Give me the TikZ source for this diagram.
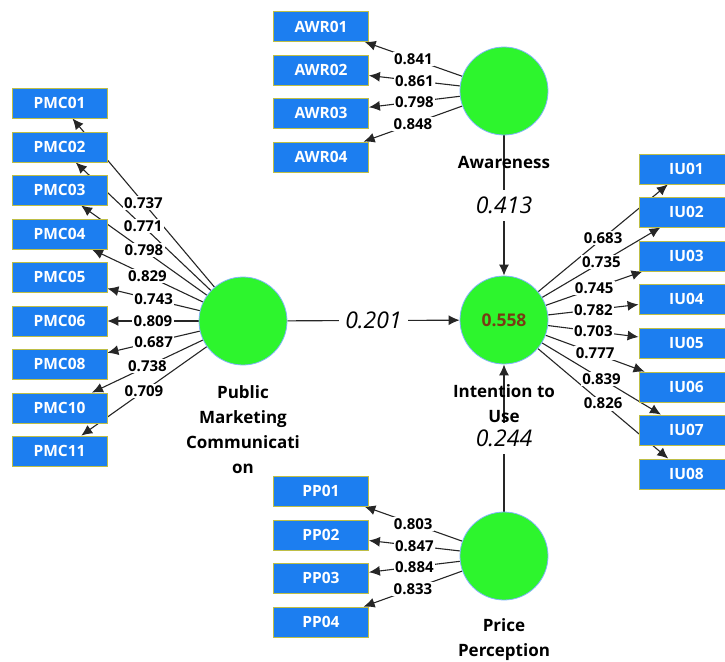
\documentclass[tikz,border=0pt]{standalone}
\usepackage{fontspec}
\setmainfont{Open Sans}
\usetikzlibrary{arrows.meta}
\definecolor{boxblue}{RGB}{28,126,240}
\definecolor{boxedge}{RGB}{190,190,70}
\definecolor{lvgreen}{RGB}{45,245,45}
\definecolor{lvedge}{RGB}{130,180,250}
\definecolor{rsq}{RGB}{120,60,20}
\pgfdeclarelayer{edges}
\pgfdeclarelayer{labels}
\pgfsetlayers{edges,labels,main}
\begin{document}
\begin{tikzpicture}[x=1pt,y=-1pt,
  ind/.style={draw=boxedge,line width=0.8pt,fill=boxblue,minimum width=95pt,minimum height=30pt,inner sep=0pt,text=white,font=\fontsize{15.5}{17}\selectfont\bfseries},
  lv/.style={circle,draw=lvedge,line width=0.8pt,fill=lvgreen,minimum size=88pt,inner sep=0pt},
  lvname/.style={font=\fontsize{17}{25}\selectfont\bfseries,align=center},
  load/.style={fill=white,inner sep=1.5pt,font=\fontsize{15}{16}\selectfont\bfseries},
  coef/.style={fill=white,inner xsep=6pt,inner ysep=7pt,font=\fontsize{23}{26}\selectfont\itshape},
  conn/.style={line width=1.1pt,draw=black!85,-{Latex[length=11pt,width=10pt]}},
]
\useasboundingbox (0,0) rectangle (725,661);
\clip (0,0) rectangle (725,661);

% latent variables
\node[lv] (AW) at (504,91) {};
\node[lv] (IU) at (504,320) {\fontsize{17.5}{20}\selectfont\bfseries\color{rsq}0.558};
\node[lv] (PMC) at (243,321) {};
\node[lv] (PP) at (504,556) {};

\node[lvname] (AWn) at (504,162) {Awareness};
\node[lvname] (IUn) at (504,404) {Intention to\\Use};
\node[lvname] (PMCn) at (243,430) {Public\\Marketing\\Communicati\\on};
\node[lvname] (PPn) at (504,640) {Price\\Perception};

% indicators
\foreach \n/\y in {01/103,02/147,03/190,04/234,05/277,06/321,08/364,10/408,11/451}
  \node[ind] (PMC\n) at (59.5,\y) {PMC\n};
\foreach \n/\y in {01/26.5,02/70,03/113,04/157}
  \node[ind] (AWR\n) at (321,\y) {AWR\n};
\foreach \n/\y in {01/169,02/212,03/256,04/299,05/343,06/387,07/430,08/474}
  \node[ind] (IU\n) at (686.5,\y) {IU\n};
\foreach \n/\y in {01/491,02/535,03/578,04/622}
  \node[ind] (PP\n) at (321,\y) {PP\n};

% connectors
\begin{pgfonlayer}{edges}
  \foreach \n in {01,02,03,04,05,06,08,10,11} \draw[conn] (PMC) -- (PMC\n);
  \foreach \n in {01,02,03,04} \draw[conn] (AW) -- (AWR\n);
  \foreach \n in {01,02,03,04,05,06,07,08} \draw[conn] (IU) -- (IU\n);
  \foreach \n in {01,02,03,04} \draw[conn] (PP) -- (PP\n);
  \draw[conn] (PMC) -- (IU);
  \draw[conn] (AW) -- (IU);
  \draw[conn] (PP) -- (IU);
\end{pgfonlayer}

% labels
\begin{pgfonlayer}{labels}
  \foreach \n/\v in {01/0.737,02/0.771,03/0.798,04/0.829,05/0.743,06/0.809,08/0.687,10/0.738,11/0.709}
    \path (PMC) -- (PMC\n) node[load,pos=.5] {\v};
  \foreach \n/\v in {01/0.841,02/0.861,03/0.798,04/0.848}
    \path (AW) -- (AWR\n) node[load,pos=.5] {\v};
  \foreach \n/\v in {01/0.683,02/0.735,03/0.745,04/0.782,05/0.703,06/0.777,07/0.839,08/0.826}
    \path (IU) -- (IU\n) node[load,pos=.5] {\v};
  \foreach \n/\v in {01/0.803,02/0.847,03/0.884,04/0.833}
    \path (PP) -- (PP\n) node[load,pos=.5] {\v};
  \path (PMC) -- (IU) node[coef,pos=.5] {0.201};
  \path (AW) -- (IU) node[coef,pos=.5] {0.413};
  \path (PP) -- (IU) node[coef,pos=.5] {0.244};
\end{pgfonlayer}
\end{tikzpicture}
\end{document}
